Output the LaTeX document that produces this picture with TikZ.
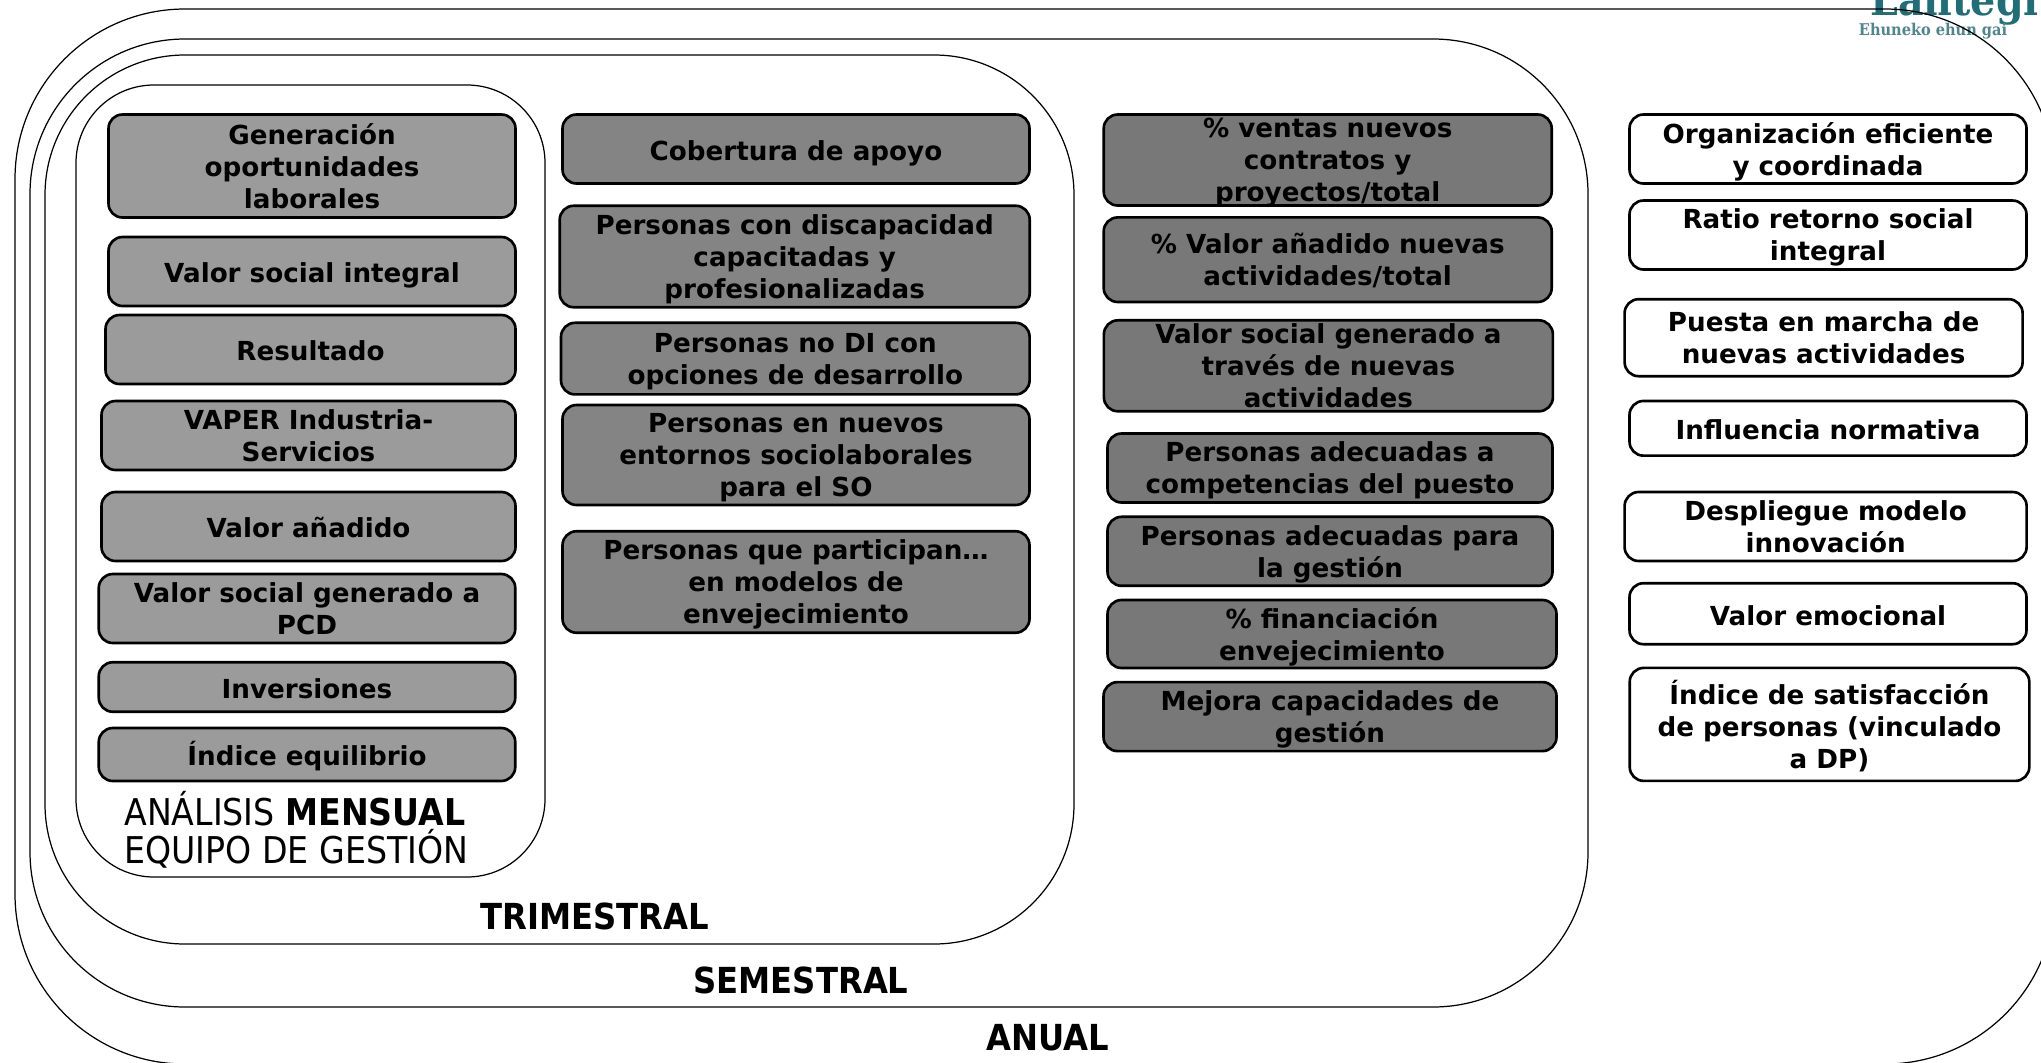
\documentclass[tikz,border=0pt]{standalone}
\usepackage{fontspec}
\setmainfont{DejaVu Sans}
\newfontfamily\labelfont{DejaVu Sans Condensed}
\newfontfamily\logofont{DejaVu Serif Condensed}
\usetikzlibrary{positioning}
\definecolor{logoteal}{HTML}{1F6E78}
\definecolor{taglineteal}{HTML}{4F858C}
\definecolor{lightgrey}{HTML}{9B9B9B}
\definecolor{midgrey}{HTML}{848484}
\definecolor{darkgrey}{HTML}{787878}

\begin{document}
\begin{tikzpicture}
	\tikzstyle{frame}=[draw,line width=0.35pt,rounded corners=#1]
	\tikzstyle{kpi}=[draw,line width=0.75pt,rounded corners=0.14cm,inner sep=0pt,align=center,text depth=-1.3pt,font=\bfseries\fontsize{7.45}{9.1}\selectfont]
	\tikzstyle{lightbox}=[kpi,fill=lightgrey]
	\tikzstyle{midbox}=[kpi,fill=midgrey]
	\tikzstyle{darkbox}=[kpi,fill=darkgrey]
	\tikzstyle{whitebox}=[kpi,fill=white]
	\tikzstyle{oneline}=[text height=6.44pt,text depth=0pt]
	\tikzstyle{period}=[font=\labelfont\bfseries\fontsize{10.2}{12}\selectfont]
	\tikzset{size/.style 2 args={minimum width=#1cm,minimum height=#2cm}}
	\useasboundingbox (0,0) rectangle (20.41,-10.62);
	\clip (0,0) rectangle (20.41,-10.62);
		\node[text=logoteal,font=\logofont\bfseries\fontsize{12.5}{13}\selectfont,anchor=base west] (logo) at (18.58,-0.15) {Lantegi};
		\node[text=taglineteal,font=\logofont\bfseries\fontsize{4.6}{6}\selectfont] (tagline) at (19.33,-0.31) {Ehuneko ehun gai};
		\node[frame=1.7cm,size={20.4}{10.55}] (anual) at (10.35,-5.365) {};
		\node[frame=1.55cm,size={15.58}{9.68}] (semestral) at (8.09,-5.23) {};
		\node[frame=1.4cm,size={10.29}{8.89}] (trimestral) at (5.595,-4.995) {};
		\node[frame=0.78cm,size={4.69}{7.92}] (mensual) at (3.105,-4.81) {};
		\node[lightbox,size={4.07}{1.03}] (g1) at (3.12,-1.66) {Generación\\oportunidades\\laborales};
		\node[lightbox,oneline,size={4.07}{0.69}] (g2) at (3.12,-2.715) {Valor social integral};
		\node[lightbox,oneline,size={4.10}{0.69}] (g3) at (3.105,-3.495) {Resultado};
		\node[lightbox,size={4.14}{0.69}] (g4) at (3.085,-4.355) {VAPER Industria-\\Servicios};
		\node[lightbox,oneline,size={4.14}{0.69}] (g5) at (3.085,-5.265) {Valor añadido};
		\node[lightbox,size={4.165}{0.69}] (g6) at (3.07,-6.085) {Valor social generado a\\PCD};
		\node[lightbox,oneline,size={4.165}{0.495}] (g7) at (3.07,-6.87) {Inversiones};
		\node[lightbox,oneline,size={4.165}{0.53}] (g8) at (3.07,-7.545) {Índice equilibrio};
		\node[midbox,oneline,size={4.67}{0.69}] (m1) at (7.96,-1.49) {Cobertura de apoyo};
		\node[midbox,size={4.70}{1.015}] (m2) at (7.947,-2.565) {Personas con discapacidad\\capacitadas y\\profesionalizadas};
		\node[midbox,size={4.686}{0.716}] (m3) at (7.953,-3.586) {Personas no DI con\\opciones de desarrollo};
		\node[midbox,size={4.67}{1.00}] (m4) at (7.96,-4.55) {Personas en nuevos\\entornos sociolaborales\\para el SO};
		\node[midbox,size={4.67}{1.015}] (m5) at (7.96,-5.82) {Personas que participan…\\en modelos de\\envejecimiento};
		\node[darkbox,size={4.48}{0.91}] (d1) at (13.277,-1.60) {\% ventas nuevos\\contratos y\\proyectos/total};
		\node[darkbox,size={4.48}{0.846}] (d2) at (13.277,-2.597) {\% Valor añadido nuevas\\actividades/total};
		\node[darkbox,size={4.49}{0.91}] (d3) at (13.284,-3.658) {Valor social generado a\\través de nuevas\\actividades};
		\node[darkbox,size={4.45}{0.69}] (d4) at (13.30,-4.68) {Personas adecuadas a\\competencias del puesto};
		\node[darkbox,size={4.45}{0.69}] (d5) at (13.30,-5.513) {Personas adecuadas para\\la gestión};
		\node[darkbox,size={4.49}{0.68}] (d6) at (13.32,-6.34) {\% financiación\\envejecimiento};
		\node[darkbox,size={4.53}{0.69}] (d7) at (13.30,-7.166) {Mejora capacidades de\\gestión};
		\node[whitebox,size={3.97}{0.69}] (w1) at (18.28,-1.49) {Organización eficiente\\y coordinada};
		\node[whitebox,size={3.97}{0.69}] (w2) at (18.28,-2.35) {Ratio retorno social\\integral};
		\node[whitebox,size={3.98}{0.77}] (w3) at (18.236,-3.377) {Puesta en marcha de\\nuevas actividades};
		\node[whitebox,oneline,size={3.97}{0.547}] (w4) at (18.28,-4.283) {Influencia normativa};
		\node[whitebox,size={4.02}{0.69}] (w5) at (18.256,-5.265) {Despliegue modelo\\innovación};
		\node[whitebox,oneline,size={3.97}{0.61}] (w6) at (18.28,-6.137) {Valor emocional};
		\node[whitebox,size={3.996}{1.13}] (w7) at (18.295,-7.244) {Índice de satisfacción\\de personas (vinculado\\a DP)};
		\node[font=\labelfont\fontsize{10.5}{10.7}\selectfont,align=left,anchor=west,inner sep=0pt] (mensuallabel) at (1.237,-8.30) {ANÁLISIS \textbf{MENSUAL}\\EQUIPO DE GESTIÓN};
		\node[period] (trimestrallabel) at (5.95,-9.16) {TRIMESTRAL};
		\node[period] (semestrallabel) at (8.01,-9.80) {SEMESTRAL};
		\node[period] (anuallabel) at (10.48,-10.38) {ANUAL};
\end{tikzpicture}
\end{document}
